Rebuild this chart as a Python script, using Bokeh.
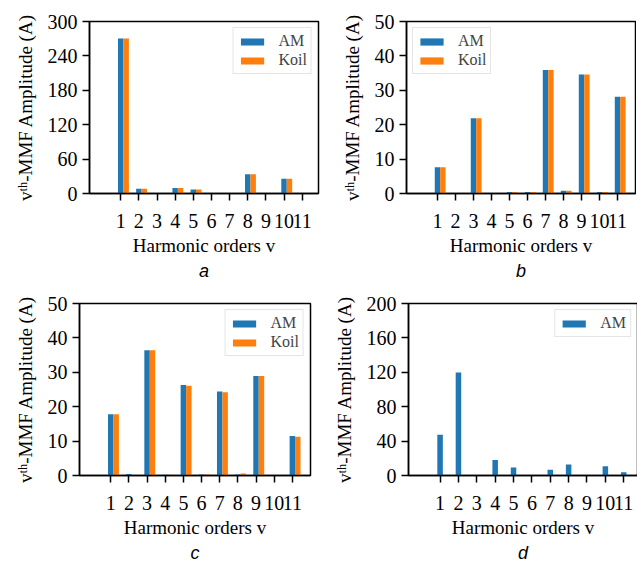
from bokeh.plotting import figure
from bokeh.models import ColumnDataSource, Legend, LegendItem, Title, FixedTicker, Range1d
from bokeh.layouts import row, column
from bokeh.transform import dodge
from bokeh.embed import file_html
from bokeh.resources import INLINE

orders = [1, 2, 3, 4, 5, 6, 7, 8, 9, 10, 11]

a_am   = [270.5, 8.5, 0.0, 9.5, 7.0, 0.0, 0.8, 33.5, 0.0, 25.8, 0.0]
a_koil = [270.5, 8.5, 0.0, 9.5, 7.0, 0.0, 0.8, 33.5, 0.0, 25.8, 0.0]
b_am   = [7.6, 0.0, 21.9, 0.0, 0.4, 0.4, 35.9, 0.8, 34.6, 0.4, 28.1]
b_koil = [7.6, 0.0, 21.9, 0.0, 0.4, 0.4, 35.9, 0.8, 34.6, 0.4, 28.1]
c_am   = [17.8, 0.4, 36.4, 0.2, 26.3, 0.3, 24.4, 0.3, 28.9, 0.0, 11.5]
c_koil = [17.8, 0.1, 36.4, 0.2, 26.1, 0.3, 24.2, 0.6, 28.9, 0.0, 11.3]
d_am   = [47.5, 119.7, 0.0, 18.1, 9.3, 0.0, 6.6, 12.7, 0.0, 10.8, 3.9]

a_yticks = [0, 60, 120, 180, 240, 300]
b_yticks = [0, 10, 20, 30, 40, 50]
c_yticks = [0, 10, 20, 30, 40, 50]
d_yticks = [0, 40, 80, 120, 160, 200]

captions = ["a", "b", "c", "d"]
xlabel = "Harmonic orders v"
ylabel = "v\u1d57\u02b0-MMF Amplitude (A)"

BLUE = "#1f77b4"
ORANGE = "#ff7f0e"
SERIF = "Liberation Serif"
BAR_W = 0.3


def panel(am, koil, yticks, caption, legend_loc, frame_w, border_left,
          border_right, border_top, border_bottom, x_end):
    p = figure(frame_width=frame_w, frame_height=172,
               min_border_left=border_left, min_border_right=border_right,
               min_border_top=border_top, min_border_bottom=border_bottom,
               x_range=Range1d(-0.72, x_end),
               y_range=Range1d(yticks[0], yticks[-1]),
               output_backend="svg", toolbar_location=None)
    data = dict(x=orders, am=am)
    if koil is not None:
        data["koil"] = koil
    src = ColumnDataSource(data)
    r1 = p.vbar(x="x", top="am", width=BAR_W, source=src,
                fill_color=BLUE, line_color=None)
    items = [LegendItem(label="AM", renderers=[r1])]
    if koil is not None:
        r2 = p.vbar(x=dodge("x", BAR_W, range=p.x_range), top="koil",
                    width=BAR_W, source=src, fill_color=ORANGE, line_color=None)
        items.append(LegendItem(label="Koil", renderers=[r2]))

    p.xgrid.visible = False
    p.ygrid.visible = False
    p.outline_line_color = "black"
    p.outline_line_width = 1.5
    p.outline_line_alpha = 1.0

    for ax in (p.xaxis[0], p.yaxis[0]):
        ax.axis_line_width = 1.5
        ax.major_tick_line_width = 1.5
        ax.major_tick_out = 7
        ax.major_tick_in = 0
        ax.minor_tick_line_color = None
        ax.major_label_text_font = SERIF
        ax.major_label_text_font_size = "20px"
        ax.major_label_text_color = "black"
        ax.axis_label_text_font = SERIF
        ax.axis_label_text_font_size = "19px"
        ax.axis_label_text_font_style = "normal"
        ax.axis_label_text_color = "black"

    p.xaxis.ticker = FixedTicker(ticks=orders)
    p.yaxis.ticker = FixedTicker(ticks=yticks)
    p.xaxis.axis_label = xlabel
    p.yaxis.axis_label = ylabel
    p.xaxis.major_label_standoff = 13
    p.xaxis.axis_label_standoff = 4
    p.yaxis.major_label_standoff = 5
    p.yaxis.axis_label_standoff = 9

    leg = Legend(items=items, location=legend_loc,
                 label_text_font=SERIF, label_text_font_size="16px",
                 glyph_width=29, glyph_height=9, label_standoff=12,
                 label_height=16, spacing=1, padding=4, margin=6,
                 border_line_color="#cccccc", border_line_width=1,
                 background_fill_alpha=0.8)
    p.add_layout(leg)

    t = Title(text=caption, align="center", text_font="Liberation Sans",
              text_font_size="18px", text_font_style="italic",
              text_color="black", standoff=0)
    p.add_layout(t, "below")
    return p


pa = panel(a_am, a_koil, a_yticks, captions[0], "top_right",
           229, 89, 12, 21, 96, 11.9)
pb = panel(b_am, b_koil, b_yticks, captions[1], "top_left",
           229, 76, 1, 21, 96, 12.0)
pc = panel(c_am, c_koil, c_yticks, captions[2], "top_right",
           231, 79, 20, 14, 84, 12.0)
pd = panel(d_am, None, d_yticks, captions[3], "top_right",
           229, 76, 1, 14, 84, 11.75)

layout = column(row(pa, pb), row(pc, pd))

html = file_html(layout, INLINE)
open("out.html", "w").write(html)
